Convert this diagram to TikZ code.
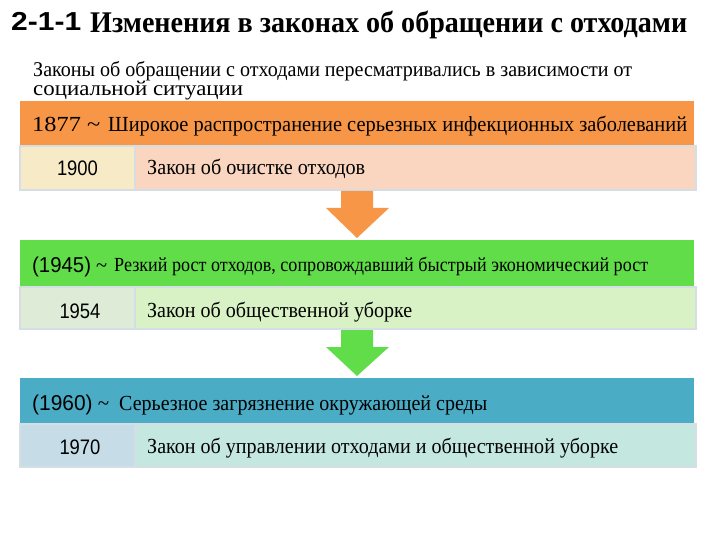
\documentclass[tikz,border=0pt]{standalone}
\usepackage{fontspec}
\usepackage{graphicx}
\setmainfont{Liberation Serif}
\setsansfont{Liberation Sans}
\usetikzlibrary{calc}
\definecolor{barA}{HTML}{F79646}
\definecolor{yearA}{HTML}{F7EBC7}
\definecolor{lawA}{HTML}{FAD6C1}
\definecolor{barB}{HTML}{62DD4A}
\definecolor{yearB}{HTML}{DEEBD6}
\definecolor{lawB}{HTML}{D8F2C5}
\definecolor{barC}{HTML}{4BACC6}
\definecolor{yearC}{HTML}{C6DDE7}
\definecolor{lawC}{HTML}{C4E8E0}
\definecolor{cellline}{HTML}{D5DEE4}
\newcommand\fitw[2]{\resizebox{#1}{\height}{#2}}
\newcommand\blockarrow[3]{%
  \fill[#3] ($(#1)+(-16,0)$) -- ($(#1)+(16,0)$) -- ($(#1)+(16,17)$) -- ($(#1)+(32,17)$)
    -- (#2) -- ($(#1)+(-31,17)$) -- ($(#1)+(-16,17)$) -- cycle;}
\begin{document}
\begin{tikzpicture}[x=1pt,y=-1pt,
  bar/.style={anchor=north west, minimum width=674pt, inner sep=0, outer sep=0},
  cell/.style={anchor=north west, inner sep=0, outer sep=0, draw=cellline, line width=1.2pt},
  txt/.style={inner sep=0, anchor=base west, text=black},
  yr/.style={inner sep=0, anchor=base, text=black, font=\sffamily\fontsize{21}{24}\selectfont},
  law/.style={txt, font=\fontsize{21.5}{24}\selectfont},
  head/.style={txt, font=\fontsize{21.5}{24}\selectfont}]
\useasboundingbox (0,0) rectangle (720,540);
% title
\node[txt, font=\sffamily\bfseries\fontsize{26}{30}\selectfont] (num) at (11,31) {\fitw{70pt}{2-1-1}};
\node[txt, font=\bfseries\fontsize{30}{34}\selectfont] (title) at (90,33) {\fitw{597pt}{Изменения в законах об обращении с отходами}};
\node[txt, font=\fontsize{21}{24}\selectfont] (sub1) at (33,77) {\fitw{599pt}{Законы об обращении с отходами пересматривались в зависимости от}};
\node[txt, font=\fontsize{21}{24}\selectfont] (sub2) at (33,96) {\fitw{210pt}{социальной ситуации}};
% block 1
\node[bar, fill=barA, minimum height=45pt] (b1) at (20,101) {};
\node[cell, fill=yearA, minimum width=115pt, minimum height=44pt] (y1) at (20,146) {};
\node[cell, fill=lawA, minimum width=561pt, minimum height=44pt] (l1) at (135,146) {};
\node[head] (h1a) at (32,132) {\fitw{68pt}{1877 \textasciitilde}};
\node[head] (h1b) at (108,132) {\fitw{579pt}{Широкое распространение серьезных инфекционных заболеваний}};
\node[yr] (y1t) at (77.5,176) {\fitw{41pt}{1900}};
\node[law] (l1t) at (147,175) {\fitw{218pt}{Закон об очистке отходов}};
% block 2
\node[bar, fill=barB, minimum height=47pt] (b2) at (20,240) {};
\node[cell, fill=yearB, minimum width=115pt, minimum height=42pt] (y2) at (20,287) {};
\node[cell, fill=lawB, minimum width=561pt, minimum height=42pt] (l2) at (135,287) {};
\node[head] (h2a) at (32,272) {\fitw{75pt}{{\sffamily (1945)} \textasciitilde}};
\node[head, font=\fontsize{20}{23}\selectfont] (h2b) at (114,271) {\fitw{534pt}{Резкий рост отходов, сопровождавший быстрый экономический рост}};
\node[yr] (y2t) at (80,318) {\fitw{41pt}{1954}};
\node[law] (l2t) at (147,317) {\fitw{265pt}{Закон об общественной уборке}};
% block 3
\node[bar, fill=barC, minimum height=46pt] (b3) at (20,378) {};
\node[cell, fill=yearC, minimum width=115pt, minimum height=43pt] (y3) at (20,424) {};
\node[cell, fill=lawC, minimum width=561pt, minimum height=43pt] (l3) at (135,424) {};
\node[head] (h3a) at (32,410) {\fitw{77pt}{{\sffamily (1960)} \textasciitilde}};
\node[head] (h3b) at (119,410) {\fitw{368pt}{Серьезное загрязнение окружающей среды}};
\node[yr] (y3t) at (80,454) {\fitw{41pt}{1970}};
\node[law] (l3t) at (147,453) {\fitw{471pt}{Закон об управлении отходами и общественной уборке}};
% arrows
\coordinate (a1s) at ($(b1.south |- l1.south)+(0,1)$);
\coordinate (a1e) at ($(b2.north)+(0,-2)$);
\blockarrow{a1s}{a1e}{barA}
\coordinate (a2s) at ($(b2.south |- l2.south)+(0,1)$);
\coordinate (a2e) at ($(b3.north)+(0,-2)$);
\blockarrow{a2s}{a2e}{barB}
\end{tikzpicture}
\end{document}
